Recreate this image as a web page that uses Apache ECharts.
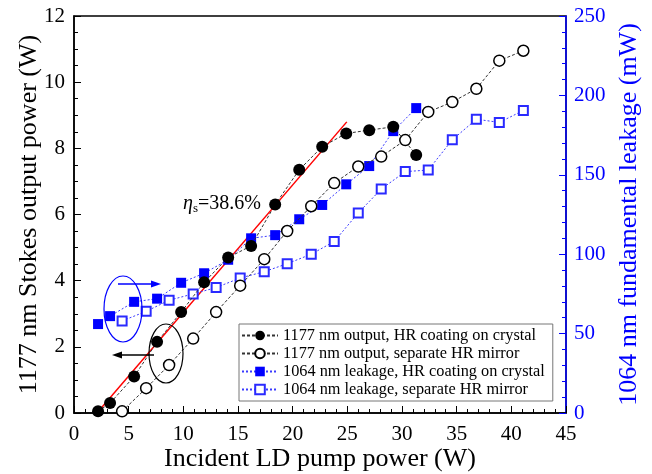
<!DOCTYPE html>
<html>
<head>
<meta charset="utf-8">
<script src="https://cdn.jsdelivr.net/npm/echarts@6/dist/echarts.min.js"></script>
<style>
  html, body { margin: 0; padding: 0; background: #fff; }
  #chart { width: 652px; height: 474px; }
</style>
</head>
<body>
<div id="chart"></div>
<script>
  // pump power (W) for the two cavity setups
  var pumpHR = [2.2, 3.3, 5.5, 7.6, 9.8, 11.9, 14.1, 16.2, 18.4, 20.6, 22.7, 24.9, 27.0, 29.2, 31.3];
  var pumpSep = [4.4, 6.6, 8.7, 10.9, 13.0, 15.2, 17.4, 19.5, 21.7, 23.8, 26.0, 28.1, 30.3, 32.4, 34.6, 36.8, 38.9, 41.1];

  // 1177 nm Stokes output (W)
  var stokesHR = [0.05, 0.3, 1.1, 2.15, 3.05, 3.95, 4.7, 5.05, 6.3, 7.35, 8.05, 8.45, 8.55, 8.65, 7.8];
  var stokesSep = [0.05, 0.75, 1.45, 2.25, 3.05, 3.85, 4.65, 5.5, 6.25, 6.95, 7.45, 7.75, 8.25, 9.1, 9.4, 9.8, 10.65, 10.95];

  // 1064 nm leakage (mW)
  var leakHR = [56, 61, 70, 72, 82, 88, 96.5, 110, 112, 122, 131, 144, 155.5, 177.5, 192];
  var leakSep = [58, 64, 71, 75, 79, 85, 89, 94, 100, 108, 126, 141, 152, 153, 172, 185, 183, 190.5];

  // linear fit, slope efficiency 38.6%
  var fitX = [2.1, 24.95];
  var fitY = [0, 8.8];

  var names = [
    '1177 nm output, HR coating on crystal',
    '1177 nm output, separate HR mirror',
    '1064 nm leakage, HR coating on crystal',
    '1064 nm leakage, separate HR mirror'
  ];

  function pairs(xs, ys) {
    return xs.map(function (x, i) { return [x, ys[i]]; });
  }

  var font = 'Liberation Serif';
  var blue = '#0000ff';

  var chart = echarts.init(document.getElementById('chart'));
  chart.setOption({
    animation: false,
    textStyle: { fontFamily: font },
    grid: {
      left: 74, right: 86, top: 16, bottom: 61,
      outerBoundsMode: 'none',
      show: true, borderColor: '#000', borderWidth: 1.5
    },
    legend: {
      orient: 'vertical',
      left: 239,
      top: 324,
      padding: [3, 8, 3, 2],
      itemWidth: 36,
      itemHeight: 12,
      itemGap: 1,
      borderColor: '#777',
      borderWidth: 1,
      backgroundColor: '#fff',
      textStyle: { fontFamily: font, fontSize: 16.3, color: '#000', lineHeight: 17 },
      data: names
    },
    xAxis: {
      type: 'value',
      min: 0, max: 45, interval: 5,
      name: 'Incident LD pump power (W)',
      nameLocation: 'middle',
      nameGap: 33,
      nameMoveOverlap: false,
      nameTextStyle: { fontFamily: font, fontSize: 26, color: '#000' },
      axisLine: { lineStyle: { color: '#000', width: 1.5 } },
      axisTick: { inside: true, length: 7, lineStyle: { color: '#000' } },
      minorTick: { show: true, splitNumber: 5, length: 4, lineStyle: { color: '#000' } },
      splitLine: { show: false },
      axisLabel: { fontFamily: font, fontSize: 21, color: '#000', margin: 11 }
    },
    yAxis: [{
      type: 'value',
      min: 0, max: 12, interval: 2,
      name: '1177 nm Stokes output power (W)',
      nameLocation: 'middle',
      nameGap: 32,
      nameMoveOverlap: false,
      nameTextStyle: { fontFamily: font, fontSize: 26, color: '#000' },
      axisLine: { show: true, lineStyle: { color: '#000', width: 1.5 } },
      axisTick: { show: true, inside: true, length: 7, lineStyle: { color: '#000' } },
      minorTick: { show: true, splitNumber: 4, length: 4, lineStyle: { color: '#000' } },
      splitLine: { show: false },
      axisLabel: { fontFamily: font, fontSize: 21, color: '#000', margin: 9 }
    }, {
      type: 'value',
      position: 'right',
      min: 0, max: 250, interval: 50,
      name: '1064 nm fundamental leakage (mW)',
      nameLocation: 'middle',
      nameGap: 50,
      nameMoveOverlap: false,
      nameRotate: 90,
      nameTextStyle: { fontFamily: font, fontSize: 26, color: blue },
      axisLine: { show: true, lineStyle: { color: blue, width: 1.5 } },
      axisTick: { show: true, inside: true, length: 7, lineStyle: { color: blue } },
      minorTick: { show: true, splitNumber: 5, length: 4, lineStyle: { color: blue } },
      splitLine: { show: false },
      axisLabel: { fontFamily: font, fontSize: 21, color: blue, margin: 8 }
    }],
    series: [{
      name: 'fit',
      type: 'line',
      data: pairs(fitX, fitY),
      symbol: 'none',
      lineStyle: { color: '#ff0000', width: 1.5 },
      z: 1
    }, {
      name: names[0],
      type: 'line',
      data: pairs(pumpHR, stokesHR),
      symbol: 'circle',
      symbolSize: 12,
      itemStyle: { color: '#000' },
      lineStyle: { color: '#333', width: 1, type: [3, 2] },
      z: 3
    }, {
      name: names[1],
      type: 'line',
      data: pairs(pumpSep, stokesSep),
      symbol: 'circle',
      symbolSize: 11,
      itemStyle: { color: '#fff', borderColor: '#000', borderWidth: 1.5 },
      lineStyle: { color: '#333', width: 1, type: [3, 2] },
      z: 3
    }, {
      name: names[2],
      type: 'line',
      yAxisIndex: 1,
      data: pairs(pumpHR, leakHR),
      symbol: 'rect',
      symbolSize: 10,
      itemStyle: { color: blue },
      lineStyle: { color: '#3a3aff', width: 1, type: [2, 2] },
      z: 2
    }, {
      name: names[3],
      type: 'line',
      yAxisIndex: 1,
      data: pairs(pumpSep, leakSep),
      symbol: 'rect',
      symbolSize: 9,
      itemStyle: { color: '#fff', borderColor: '#2a2aff', borderWidth: 2 },
      lineStyle: { color: '#3a3aff', width: 1, type: [2, 2] },
      z: 2
    }],
    graphic: [{
      type: 'text',
      left: 183, top: 194,
      style: {
        text: '{i|η}{s|s}=38.6%',
        fontFamily: font, fontSize: 20, fill: '#000',
        rich: {
          i: { fontFamily: font, fontSize: 20, fontStyle: 'italic' },
          s: { fontFamily: font, fontSize: 13, verticalAlign: 'bottom', padding: [9, 0, 0, 0] }
        }
      }
    }, {
      type: 'ellipse',
      shape: { cx: 123, cy: 309, rx: 19, ry: 33 },
      style: { fill: 'none', stroke: blue, lineWidth: 1.2 },
      z: 10
    }, {
      type: 'line',
      shape: { x1: 118, y1: 284, x2: 153, y2: 284 },
      style: { stroke: blue, lineWidth: 1.3 },
      z: 10
    }, {
      type: 'polygon',
      shape: { points: [[161, 284], [151, 280.5], [151, 287.5]] },
      style: { fill: blue },
      z: 10
    }, {
      type: 'ellipse',
      shape: { cx: 166, cy: 353.5, rx: 17, ry: 29.5 },
      style: { fill: 'none', stroke: '#000', lineWidth: 1.2 },
      z: 10
    }, {
      type: 'line',
      shape: { x1: 154, y1: 355, x2: 120, y2: 355 },
      style: { stroke: '#000', lineWidth: 1.3 },
      z: 10
    }, {
      type: 'polygon',
      shape: { points: [[112, 355], [122, 351.5], [122, 358.5]] },
      style: { fill: '#000' },
      z: 10
    }]
  });
</script>
</body>
</html>
